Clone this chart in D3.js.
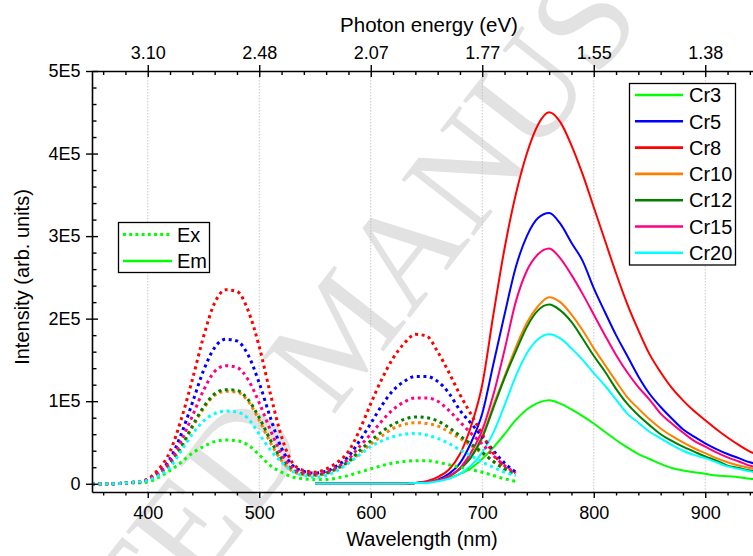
<!DOCTYPE html>
<html>
<head>
<meta charset="utf-8">
<script src="https://cdn.jsdelivr.net/npm/d3@7"></script>
<style>
  body { margin: 0; background: #fff; }
  svg { display: block; font-family: Arial, "Liberation Sans", sans-serif; }
</style>
</head>
<body>
<svg id="chart" width="753" height="556"></svg>
<script>
// wavelength grids (nm)
const wlEx = [350,360,370,380,390,400,410,420,430,440,450,460,470,480,490,500,510,520,530,540,
  550,560,570,580,590,600,610,620,630,640,650,660,670,680,690,700,710,720,730];
const wlEm = [550,560,570,580,590,600,610,620,630,640,650,660,670,680,690,700,710,720,730,740,
  750,760,770,780,790,800,810,820,830,840,850,860,870,880,890,900,910,920,930,940,950];

const samples = ["Cr3", "Cr5", "Cr8", "Cr10", "Cr12", "Cr15", "Cr20"];

// excitation spectra, units of 1E5
const exCr3 = [0,0,0,0.01,0.01, 0.02,0.08,0.16,0.26,0.37, 0.45,0.51,0.53,0.52,0.47, 0.35,0.22,0.14,0.08,0.06,
  0.05,0.05,0.07,0.10,0.14, 0.18,0.22,0.25,0.27,0.28, 0.28,0.26,0.23,0.20,0.17, 0.14,0.10,0.06,0.03];
const exCr5 = [0,0,0,0.01,0.02, 0.05,0.14,0.30,0.60,0.98, 1.37,1.65,1.75,1.73,1.56, 1.22,0.80,0.43,0.22,0.15,
  0.13,0.15,0.22,0.33,0.52, 0.73,0.95,1.13,1.24,1.30, 1.30,1.24,1.10,0.89,0.73, 0.57,0.40,0.25,0.14];
const exCr8 = [0,0,0,0.01,0.02, 0.06,0.18,0.39,0.78,1.26, 1.78,2.19,2.35,2.33,2.10, 1.66,1.09,0.57,0.25,0.16,
  0.14,0.18,0.26,0.39,0.65, 0.97,1.27,1.52,1.70,1.81, 1.79,1.60,1.35,1.08,0.84, 0.60,0.37,0.20,0.12];
const exCr10 = [0,0,0,0.01,0.02, 0.04,0.11,0.24,0.43,0.68, 0.91,1.07,1.12,1.11,1.00, 0.77,0.50,0.28,0.15,0.11,
  0.10,0.12,0.18,0.26,0.37, 0.48,0.58,0.67,0.72,0.74, 0.73,0.70,0.63,0.55,0.46, 0.37,0.27,0.18,0.11];
const exCr12 = [0,0,0,0.01,0.02, 0.04,0.12,0.25,0.45,0.70, 0.93,1.09,1.14,1.13,1.02, 0.80,0.53,0.30,0.17,0.12,
  0.11,0.13,0.19,0.27,0.40, 0.52,0.63,0.72,0.78,0.81, 0.80,0.76,0.68,0.58,0.48, 0.38,0.27,0.18,0.11];
const exCr15 = [0,0,0,0.01,0.02, 0.05,0.13,0.27,0.52,0.82, 1.13,1.36,1.43,1.41,1.26, 0.98,0.65,0.36,0.19,0.13,
  0.12,0.14,0.20,0.30,0.45, 0.60,0.76,0.90,0.99,1.04, 1.04,1.00,0.89,0.75,0.61, 0.48,0.34,0.22,0.13];
const exCr20 = [0,0,0,0.01,0.02, 0.04,0.10,0.20,0.40,0.60, 0.76,0.85,0.88,0.87,0.79, 0.60,0.41,0.26,0.15,0.10,
  0.08,0.10,0.16,0.25,0.35, 0.45,0.52,0.57,0.60,0.61, 0.59,0.55,0.49,0.41,0.34, 0.26,0.20,0.14,0.10];

// emission spectra, units of 1E5
const emCr3 = [0,0,0,0,0,0,0,0,0, 0.01,0.02,0.04,0.07,0.12, 0.19,0.30,0.44,0.60,0.77, 0.90,0.98,1.01,0.97,0.90,
  0.82,0.73,0.63,0.53,0.44, 0.36,0.30,0.24,0.19,0.16, 0.14,0.12,0.10,0.09,0.08, 0.06,0.05];
const emCr5 = [0,0,0,0,0,0,0,0,0, 0.01,0.02,0.05,0.12,0.25, 0.50,0.85,1.45,2.05,2.62, 3.00,3.22,3.28,3.15,2.92,
  2.70,2.37,2.08,1.80,1.55, 1.30,1.09,0.93,0.79,0.66, 0.57,0.49,0.42,0.36,0.31, 0.26,0.23];
const emCr8 = [0,0,0,0,0,0,0,0,0, 0.01,0.03,0.08,0.17,0.36, 0.70,1.20,2.05,2.85,3.50, 4.00,4.35,4.50,4.38,4.10,
  3.75,3.35,2.95,2.55,2.18, 1.86,1.57,1.35,1.16,1.01, 0.88,0.77,0.66,0.56,0.47, 0.39,0.34];
const emCr10 = [0,0,0,0,0,0,0,0,0, 0.01,0.02,0.04,0.09,0.18, 0.33,0.58,0.95,1.30,1.65, 1.95,2.15,2.26,2.20,2.05,
  1.86,1.64,1.44,1.24,1.05, 0.91,0.78,0.67,0.58,0.50, 0.43,0.37,0.31,0.26,0.22, 0.19,0.16];
const emCr12 = [0,0,0,0,0,0,0,0,0, 0.01,0.02,0.04,0.09,0.18, 0.32,0.56,0.92,1.28,1.60, 1.90,2.10,2.17,2.10,1.96,
  1.76,1.55,1.36,1.15,0.97, 0.83,0.71,0.60,0.52,0.45, 0.39,0.33,0.28,0.22,0.19, 0.16,0.14];
const emCr15 = [0,0,0,0,0,0,0,0,0, 0.01,0.02,0.04,0.09,0.19, 0.38,0.65,1.08,1.62,2.20, 2.58,2.78,2.85,2.73,2.53,
  2.30,2.05,1.80,1.56,1.35, 1.17,1.02,0.85,0.73,0.62, 0.52,0.45,0.38,0.32,0.27, 0.22,0.19];
const emCr20 = [0,0,0,0,0,0,0,0,0, 0.01,0.01,0.03,0.06,0.12, 0.22,0.38,0.62,0.95,1.30, 1.58,1.75,1.81,1.76,1.64,
  1.50,1.34,1.19,1.02,0.85, 0.74,0.63,0.55,0.47,0.40, 0.35,0.31,0.26,0.21,0.18, 0.15,0.13];

// axis ticks and labels
const majorWl = [400, 500, 600, 700, 800, 900];
const minorWl = [360,380,420,440,460,480,520,540,560,580,620,640,660,680,720,740,760,780,820,840,860,880,920,940];
const energyLabels = ["3.10", "2.48", "2.07", "1.77", "1.55", "1.38"];
const yMajor = [0, 1, 2, 3, 4, 5];
const yLabels = ["0", "1E5", "2E5", "3E5", "4E5", "5E5"];
const yMinor = [0.2,0.4,0.6,0.8,1.2,1.4,1.6,1.8,2.2,2.4,2.6,2.8,3.2,3.4,3.6,3.8,4.2,4.4,4.6,4.8];

const exSeries = [exCr3, exCr5, exCr8, exCr10, exCr12, exCr15, exCr20];
const emSeries = [emCr3, emCr5, emCr8, emCr10, emCr12, emCr15, emCr20];
const colors = ["#00ff00", "#0000ff", "#ff0000", "#ff8000", "#008000", "#ff0080", "#00ffff"];

const svg = d3.select("#chart");
const mLeft = 92, mRight = 761, mTop = 71, mBottom = 492;

const x = d3.scaleLinear().domain([350, 950]).range([mLeft, mRight]);
const y = d3.scaleLinear().domain([-0.1, 5]).range([mBottom, mTop]);

//watermark (runs off the page like in the original)
svg.append("text")
  .attr("transform", "translate(338,330) rotate(-52)")
  .attr("text-anchor", "middle")
  .attr("dy", "0.35em")
  .attr("font-family", "'Liberation Serif', serif")
  .attr("font-size", 140)
  .attr("fill", "#e2e2e2")
  .text("ACCEPTED MANUSCRIPT");

//grid
svg.append("g")
  .selectAll("line")
  .data(majorWl)
  .join("line")
  .attr("x1", d => x(d)).attr("x2", d => x(d))
  .attr("y1", y(5)).attr("y2", y(-0.1))
  .attr("stroke", "#bbbbbb")
  .attr("stroke-width", 0.8)
  .attr("stroke-dasharray", "1.5,1.5");

//curves
svg.append("clipPath").attr("id", "plot")
  .append("rect").attr("x", mLeft).attr("y", mTop).attr("width", mRight - mLeft).attr("height", mBottom - mTop);
const plot = svg.append("g").attr("clip-path", "url(#plot)");

const lineEm = d3.line().x((d, i) => x(wlEm[i])).y(d => y(d)).curve(d3.curveMonotoneX);
const lineEx = d3.line().x((d, i) => x(wlEx[i])).y(d => y(d)).curve(d3.curveMonotoneX);

plot.selectAll(".em")
  .data(emSeries)
  .join("path")
  .attr("class", "em")
  .attr("d", lineEm)
  .attr("fill", "none")
  .attr("stroke", (d, i) => colors[i])
  .attr("stroke-width", 2);

plot.selectAll(".ex")
  .data(exSeries)
  .join("path")
  .attr("class", "ex")
  .attr("d", lineEx)
  .attr("fill", "none")
  .attr("stroke", (d, i) => colors[i])
  .attr("stroke-width", 3)
  .attr("stroke-dasharray", "3,3.6");

//axes
const axisStyle = g => {
  g.select(".domain").attr("stroke-width", 1.6);
  g.selectAll(".tick line").attr("stroke-width", 1.4);
  g.selectAll(".tick text").attr("font-size", 18).attr("fill", "#000")
    .attr("font-family", "Arial, 'Liberation Sans', sans-serif");
};
const noDomain = g => g.select(".domain").remove();

svg.append("g")
  .attr("transform", `translate(0,${mBottom})`)
  .call(d3.axisBottom(x).tickValues(majorWl).tickSize(6).tickPadding(8.5).tickSizeOuter(0))
  .call(axisStyle);
svg.append("g")
  .attr("transform", `translate(0,${mBottom})`)
  .call(d3.axisBottom(x).tickValues(minorWl).tickSize(3.5).tickFormat("").tickSizeOuter(0))
  .call(noDomain).call(axisStyle);

const gTop = svg.append("g")
  .attr("transform", `translate(0,${mTop})`)
  .call(d3.axisTop(x).tickValues(majorWl).tickFormat((d, i) => energyLabels[i]).tickSize(6).tickPadding(6).tickSizeOuter(0))
  .call(axisStyle);
gTop.selectAll(".tick line").attr("y1", 6);
svg.append("g")
  .attr("transform", `translate(0,${mTop})`)
  .call(d3.axisBottom(x).tickValues(minorWl).tickSize(4).tickFormat("").tickSizeOuter(0))
  .call(noDomain).call(axisStyle);

const gLeft = svg.append("g")
  .attr("transform", `translate(${mLeft},0)`)
  .call(d3.axisLeft(y).tickValues(yMajor).tickFormat((d, i) => yLabels[i]).tickSize(6).tickPadding(5.5).tickSizeOuter(0))
  .call(axisStyle);
gLeft.selectAll(".tick line").attr("x1", 6);
svg.append("g")
  .attr("transform", `translate(${mLeft},0)`)
  .call(d3.axisRight(y).tickValues(yMinor).tickSize(4.5).tickFormat("").tickSizeOuter(0))
  .call(noDomain).call(axisStyle);

//axis titles
svg.append("text")
  .attr("x", 422).attr("y", 546)
  .attr("text-anchor", "middle").attr("font-size", 20)
  .text("Wavelength (nm)");
svg.append("text")
  .attr("x", 429).attr("y", 31.5)
  .attr("text-anchor", "middle").attr("font-size", 20.5)
  .text("Photon energy (eV)");
svg.append("text")
  .attr("transform", "translate(22,277) rotate(-90)")
  .attr("text-anchor", "middle").attr("dy", "0.35em").attr("font-size", 20)
  .text("Intensity (arb. units)");

//sample legend
const leg = svg.append("g");
leg.append("rect")
  .attr("x", 629.5).attr("y", 83.5).attr("width", 106).attr("height", 181.5)
  .attr("fill", "#fff").attr("stroke", "#000").attr("stroke-width", 1.3);
const rows = leg.selectAll(".row")
  .data(samples)
  .join("g")
  .attr("class", "row")
  .attr("transform", (d, i) => `translate(0,${95 + i * 26.3})`);
rows.append("line")
  .attr("x1", 635).attr("x2", 683)
  .attr("stroke", (d, i) => colors[i]).attr("stroke-width", 2.6);
rows.append("text")
  .attr("x", 689).attr("dy", "0.36em").attr("font-size", 20)
  .text(d => d);

//Ex / Em legend
const leg2 = svg.append("g");
leg2.append("rect")
  .attr("x", 118.5).attr("y", 222.5).attr("width", 91).attr("height", 50)
  .attr("fill", "#fff").attr("stroke", "#000").attr("stroke-width", 1.3);
const kinds = leg2.selectAll(".kind")
  .data(["Ex", "Em"])
  .join("g")
  .attr("class", "kind")
  .attr("transform", (d, i) => `translate(0,${234.5 + i * 26.5})`);
kinds.append("line")
  .attr("x1", 123).attr("x2", 172)
  .attr("stroke", colors[0])
  .attr("stroke-width", (d, i) => i === 0 ? 3 : 2.6)
  .attr("stroke-dasharray", (d, i) => i === 0 ? "3,3.2" : null);
kinds.append("text")
  .attr("x", 177).attr("dy", "0.36em").attr("font-size", 20)
  .text(d => d);
</script>
</body>
</html>
